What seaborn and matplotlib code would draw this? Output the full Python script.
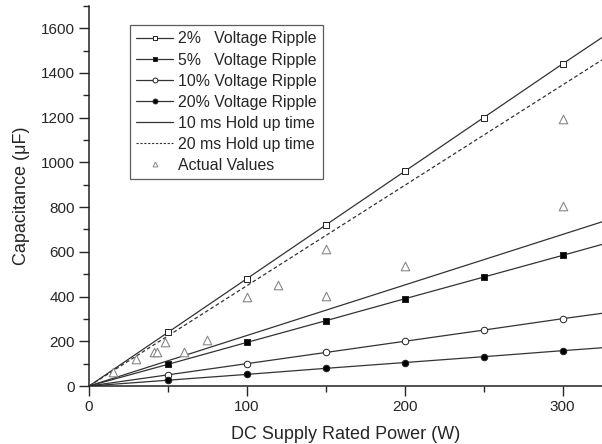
import matplotlib
matplotlib.use('Agg')
import matplotlib.pyplot as plt
from matplotlib.lines import Line2D
from matplotlib.ticker import MultipleLocator
import seaborn as sns

# Данные
power_pts = [50, 100, 150, 200, 250, 300]
line_x = [0, 50, 100, 150, 200, 250, 300, 325]

ripple_2 = [0, 240, 480, 720, 960, 1200, 1440, 1558]
ripple_5 = [0, 97, 195, 292, 390, 487, 584, 633]
ripple_10 = [0, 50, 100, 150, 200, 250, 301, 325]
ripple_20 = [0, 26, 52, 79, 105, 131, 158, 171]

hold_x = [0, 325]
hold_10ms = [0, 734]
hold_20ms = [0, 1458]

actual_x = [15, 30, 41, 43, 48, 60, 75, 100, 120, 150, 150, 200, 300, 300]
actual_y = [61, 122, 153, 153, 198, 153, 204, 399, 451, 611, 403, 537, 1193, 807]

labels = ['2%   Voltage Ripple', '5%   Voltage Ripple', '10% Voltage Ripple',
          '20% Voltage Ripple', '10 ms Hold up time', '20 ms Hold up time',
          'Actual Values']

sns.set_style('ticks')
plt.rcParams['font.family'] = ['Liberation Sans', 'DejaVu Sans']

fig = plt.figure(figsize=(6.02, 4.44), dpi=100)
ax = fig.add_axes([0.148, 0.1306, 0.852, 0.8564])

lc = '#333333'
lw = 0.9

# Линии пульсаций с маркерами
series = [
    (ripple_2, 's', 'white'),
    (ripple_5, 's', 'black'),
    (ripple_10, 'o', 'white'),
    (ripple_20, 'o', 'black'),
]
for vals, mk, fc in series:
    sns.lineplot(x=line_x, y=vals, ax=ax, color=lc, linewidth=lw)
    sns.scatterplot(x=power_pts, y=vals[1:-1], ax=ax, marker=mk, s=22,
                    facecolor=fc, edgecolor='#222222', linewidth=0.7, zorder=3)

# Время удержания
sns.lineplot(x=hold_x, y=hold_10ms, ax=ax, color=lc, linewidth=lw)
sns.lineplot(x=hold_x, y=hold_20ms, ax=ax, color=lc, linewidth=lw, linestyle=(0, (3, 2)))

# Фактические значения
sns.scatterplot(x=actual_x, y=actual_y, ax=ax, marker='^', s=38,
                facecolor='white', edgecolor='#888888', linewidth=0.8, zorder=3)

ax.set_xlim(0, 325)
ax.set_ylim(0, 1700)
ax.xaxis.set_major_locator(MultipleLocator(100))
ax.xaxis.set_minor_locator(MultipleLocator(50))
ax.yaxis.set_major_locator(MultipleLocator(200))
ax.yaxis.set_minor_locator(MultipleLocator(100))
ax.tick_params(which='major', length=7, width=1, labelsize=11, direction='out', pad=3)
ax.tick_params(which='minor', length=4, width=1, direction='out')
sns.despine(ax=ax)
ax.spines['left'].set_linewidth(1.1)
ax.spines['bottom'].set_linewidth(1.1)
ax.spines['left'].set_color('#222222')
ax.spines['bottom'].set_color('#222222')

ax.set_xlabel('DC Supply Rated Power (W)', fontsize=13, labelpad=9)
ax.set_ylabel('Capacitance (\u03bcF)', fontsize=13, labelpad=8)

# Легенда
handles = [
    Line2D([], [], color=lc, lw=lw, marker='s', ms=3.5, mfc='white', mec='#222222', mew=0.7),
    Line2D([], [], color=lc, lw=lw, marker='s', ms=3.5, mfc='black', mec='#222222', mew=0.7),
    Line2D([], [], color=lc, lw=lw, marker='o', ms=3.5, mfc='white', mec='#222222', mew=0.7),
    Line2D([], [], color=lc, lw=lw, marker='o', ms=3.5, mfc='black', mec='#222222', mew=0.7),
    Line2D([], [], color=lc, lw=lw),
    Line2D([], [], color=lc, lw=0.8, linestyle=(0, (2, 1.5))),
    Line2D([], [], color='none', marker='^', ms=3.5, mfc='white', mec='#888888', mew=0.7),
]
leg = ax.legend(handles, labels, loc='upper left', bbox_to_anchor=(0.08, 0.949),
                borderaxespad=0, fontsize=11.4, handlelength=2.3, handletextpad=0.3,
                labelspacing=0.38, frameon=True, fancybox=False, borderpad=0.4)
leg.get_frame().set_edgecolor('#333333')
leg.get_frame().set_linewidth(0.9)

fig.savefig('out.png', dpi=100)
